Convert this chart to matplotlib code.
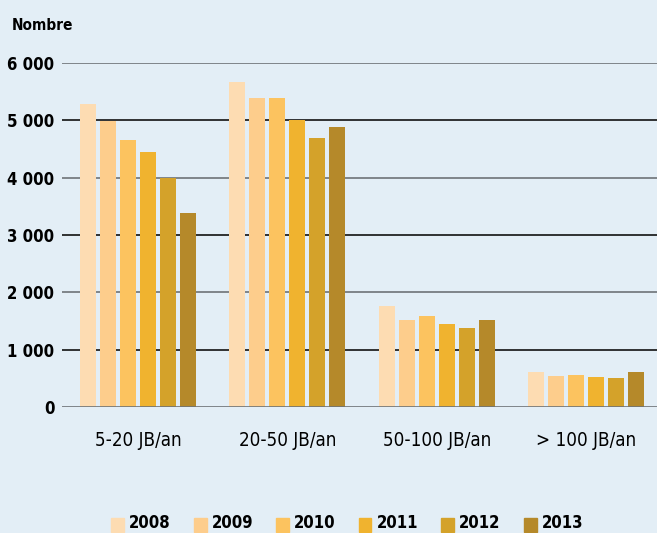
import numpy as np
import matplotlib
matplotlib.use('Agg')
import matplotlib.pyplot as plt
from matplotlib.patches import Rectangle

# ---------------------------------------------------------------------------
# Data
# ---------------------------------------------------------------------------
categories = ['5-20 JB/an', '20-50 JB/an', '50-100 JB/an', '> 100 JB/an']
years = ['2008', '2009', '2010', '2011', '2012', '2013']
values = {
    '2008': [5290, 5660, 1770, 605],
    '2009': [4990, 5395, 1520, 541],
    '2010': [4650, 5390, 1590, 552],
    '2011': [4440, 5010, 1455, 523],
    '2012': [4000, 4690, 1380, 506],
    '2013': [3380, 4880, 1520, 610],
}
colors = ['#FDDCB2', '#FDCD8C', '#FCC35F', '#F0B32F', '#D4A22A', '#B5892A']
yticks = [0, 1000, 2000, 3000, 4000, 5000, 6000]
ytick_labels = ['0', '1 000', '2 000', '3 000', '4 000', '5 000', '6 000']

BG = '#E3EEF6'
FONT = dict(family='DejaVu Sans', stretch='condensed')

# ---------------------------------------------------------------------------
# Figure
# ---------------------------------------------------------------------------
W, H = 657, 533
fig = plt.figure(figsize=(W / 100, H / 100), dpi=100, facecolor=BG)
ax = fig.add_axes([62 / W, (H - 407) / H, (W - 62) / W, 344 / H])
ax.set_facecolor(BG)

step = 20 / 149.5
width = 16 / 149.5
x = np.arange(len(categories))
for i, y in enumerate(years):
    offs = (i - 2.5) * step
    ax.bar(x + offs, values[y], width=width, color=colors[i], zorder=3)

ax.set_xlim(-0.508, 3.472)
ax.set_ylim(0, 6000)

# alternating gridline colours, as in the original
for k, t in enumerate(yticks):
    c = '#6E7377' if k % 2 == 0 else '#111111'
    ax.axhline(t, color=c, lw=1.2, zorder=2 if t > 0 else 4)

ax.set_yticks(yticks)
ax.set_yticklabels(ytick_labels, fontsize=12, fontweight='bold', **FONT)
ax.set_xticks(x)
ax.set_xticklabels(categories, fontsize=13.5, **FONT)
ax.tick_params(axis='both', length=0)
ax.tick_params(axis='y', pad=5.5)
ax.tick_params(axis='x', pad=17)
for s in ax.spines.values():
    s.set_visible(False)

fig.text(12 / W, 1 - 25 / H, 'Nombre', fontsize=11,
         fontweight='bold', va='center', ha='left', **FONT)

# legend drawn along the bottom
for i, y in enumerate(years):
    x0 = 111 + i * 82.5
    fig.patches.append(Rectangle((x0 / W, (H - 532) / H), 13 / W, 14 / H,
                                 transform=fig.transFigure, color=colors[i]))
    fig.text((x0 + 18) / W, 1 - 523 / H, y, fontsize=12,
             fontweight='bold', va='center', ha='left', **FONT)

fig.savefig('out.png', dpi=100, facecolor=BG)
